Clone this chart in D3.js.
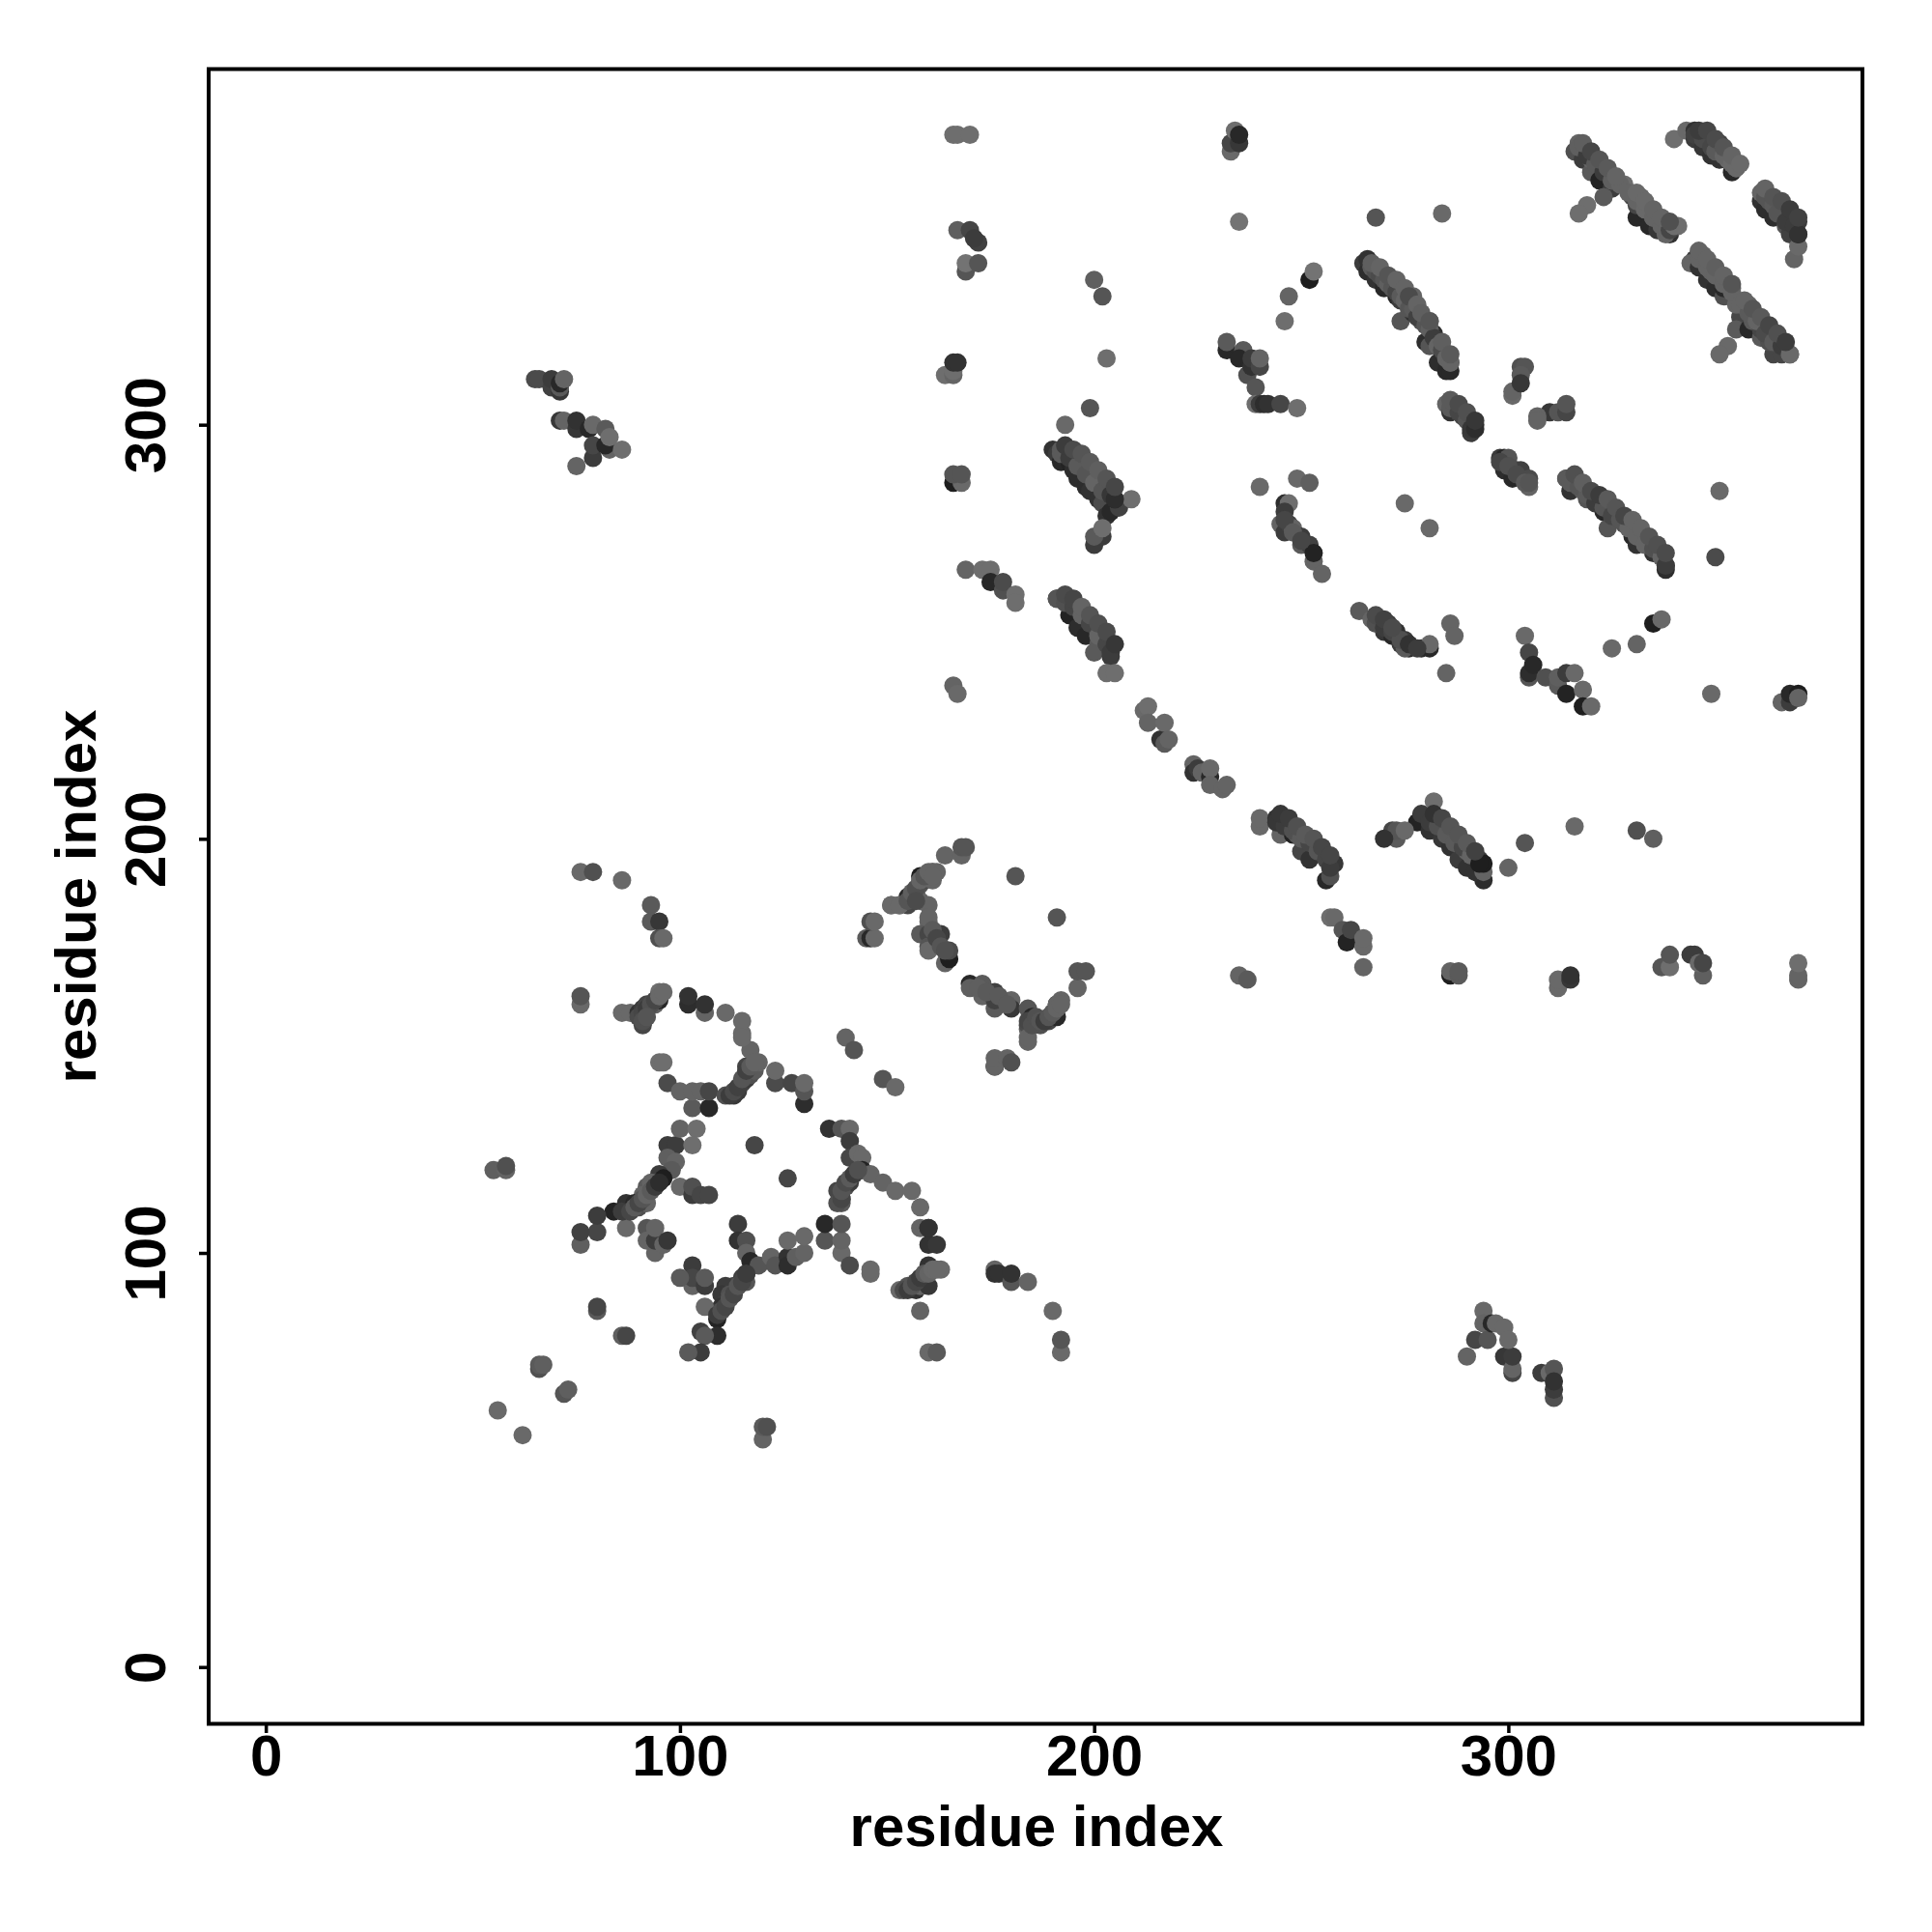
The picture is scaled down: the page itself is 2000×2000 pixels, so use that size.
<!DOCTYPE html>
<html><head><meta charset="utf-8">
<script src="https://cdnjs.cloudflare.com/ajax/libs/d3/7.8.5/d3.min.js"></script>
<style>html,body{margin:0;padding:0;background:#fff}svg{display:block}</style>
</head><body><div id="c"></div>
<script>
// every contact: [residue x, residue y, grey level]
const topRow=[[166,370,110],[167,370,110],[170,370,110],[233,366,105],[233,368,70],[235,368,55],[234,371,110],[235,370,40],[235,349,115],[268,350,85],[252,335,30],[253,337,115],[247,331,100],[246,325,110],[200,335,95],[202,331,85],[203,316,110],[199,304,85],[193,300,105],[240,285,105],[249,287,105],[252,286,95],[284,351,105],[275,281,105],[281,275,105],[351,284,105],[350,268,75]];
const nearTop=[[167,347,95],[170,347,70],[172,344,65],[171,345,60],[169,337,85],[169,339,115],[172,339,85],[164,312,110],[166,312,100],[166,313,110],[166,315,50],[167,315,50]];
const cluster232=[[232,318,40],[232,320,90],[236,318,90],[235,316,40],[237,312,80],[238,314,50],[238,316,60],[240,314,70],[240,316,100],[239,309,85],[239,305,110],[240,305,60],[241,305,45],[242,305,50],[245,305,70],[249,304,110]];
const strandA=[[190,294,50],[191,293,60],[192,294,90],[192,291,40],[193,292,45],[194,291,35],[194,294,35],[195,293,50],[195,289,45],[196,291,90],[196,287,45],[198,285,45],[199,289,60],[199,284,50],[200,287,110],[201,282,50],[202,285,80],[202,281,75],[203,284,75],[203,278,50],[204,279,40],[206,280,65],[205,282,40],[209,282,110],[200,271,60],[202,273,60],[200,273,90],[202,275,110],[166,286,30],[168,286,105],[166,288,85],[168,288,85]];
const strandB=[[246,281,45],[247,281,110],[246,279,60],[245,276,100],[246,274,60],[247,276,65],[248,275,100],[250,273,60],[250,271,90],[252,271,65],[253,267,100],[253,269,35],[255,264,100],[169,265,100],[173,265,110],[175,265,110],[175,262,40],[178,260,80],[178,262,75],[181,259,110],[181,257,110]];
const strandC=[[265,339,60],[266,337,45],[266,340,50],[267,338,90],[268,335,50],[269,337,80],[270,333,40],[270,336,60],[271,334,45],[272,335,90],[273,331,40],[272,333,75],[274,330,60],[274,333,100],[275,331,90],[276,329,55],[274,325,85],[277,327,50],[277,331,100],[279,325,80],[281,325,95],[280,320,45],[282,322,45],[281,319,85],[283,319,100],[283,315,45],[285,313,40],[286,313,40],[285,317,70],[286,315,100]];
const strandD=[[316,366,80],[317,368,100],[319,366,65],[318,364,60],[320,361,90],[320,364,100],[322,359,35],[323,362,70],[325,357,60],[325,359,100],[328,358,110],[323,355,90],[319,353,110],[317,351,110],[331,350,40],[331,353,70],[330,355,70],[334,348,40],[332,355,105],[333,352,105],[336,347,55],[335,350,100],[339,346,50],[338,346,100],[339,348,70],[341,348,110]];
const strandE=[[340,369,110],[343,371,105],[345,369,60],[345,371,50],[347,367,55],[348,370,70],[349,365,50],[351,368,65],[351,364,50],[352,366,90],[354,361,40],[353,364,105],[355,362,105]];
const strandF=[[361,354,50],[361,356,100],[362,352,45],[363,354,85],[364,350,45],[365,353,90],[367,348,85],[368,351,55],[368,346,65],[370,349,60],[369,340,100],[370,343,105],[370,346,50]];
const strandG=[[345,340,60],[344,339,100],[347,341,100],[346,338,50],[348,335,50],[349,337,100],[350,333,45],[351,336,100],[352,331,80],[352,333,40],[354,333,100],[356,326,70],[355,329,100],[358,329,100],[355,323,90],[353,319,105],[351,317,105],[358,323,40],[359,325,90],[361,321,90],[361,323,70],[364,317,70],[363,320,80],[366,320,55],[366,317,70],[368,317,105]];
const clusterH=[[303,314,80],[304,314,85],[303,312,90],[301,307,105],[301,308,100],[303,310,55],[310,303,55],[307,302,100],[307,301,100],[312,303,85],[314,303,70],[314,305,85]];
const strandI=[[285,305,100],[286,303,50],[287,305,85],[288,304,70],[289,302,70],[291,298,60],[291,300,80],[292,300,40],[298,292,60],[299,289,45],[299,292,40],[300,292,85],[301,287,40],[302,289,80],[303,289,65],[305,285,100],[305,287,75]];
const strandJ=[[314,287,55],[315,284,50],[314,287,90],[316,286,70],[318,284,95],[319,282,85],[321,282,35],[323,279,40],[324,281,90],[324,275,85],[326,278,50],[328,276,80],[330,273,40],[330,275,100],[331,271,50],[332,273,100],[334,271,70],[335,269,50],[337,268,100],[338,265,45],[338,266,50]];
const strandK=[[264,255,90],[267,253,100],[269,253,35],[271,252,60],[270,250,55],[272,249,40],[273,250,50],[274,247,60],[274,248,65],[276,246,45],[275,248,60],[275,246,90],[279,246,45],[281,246,40],[281,247,105],[286,252,100],[287,249,100],[285,240,100]];
const block304=[[304,249,105],[305,239,85],[305,240,45],[305,245,70],[306,242,40],[309,239,80],[312,237,90],[312,239,95],[314,235,35],[314,240,60],[316,240,105],[318,236,105],[318,232,30],[320,232,105],[325,246,105],[331,247,100],[335,252,30],[337,253,105],[349,235,105],[366,233,100],[368,233,60],[368,235,40],[370,235,30],[370,234,100]];
const strandL=[[278,204,35],[279,206,60],[282,205,35],[281,202,50],[282,209,110],[284,203,80],[284,200,55],[286,201,95],[286,198,50],[288,195,60],[288,199,70],[290,193,50],[290,197,100],[294,190,45],[292,192,50],[293,195,60],[294,192,100],[294,194,30],[273,200,90],[272,202,70],[273,202,85],[275,202,105],[304,199,85],[300,193,100],[316,203,105],[331,202,80],[335,200,95]];
const row167=[[286,167,30],[286,168,100],[288,167,90],[288,168,90],[312,164,105],[312,166,105],[315,166,55],[315,167,50],[337,169,85],[339,169,110],[339,172,85],[344,172,60],[345,172,60],[347,167,95],[346,170,105],[347,170,70],[370,166,100],[370,167,100],[370,170,110],[235,167,100],[237,166,90]];
const strandM=[[191,258,60],[191,258,85],[194,254,35],[194,258,75],[195,257,70],[196,251,45],[197,255,105],[199,252,70],[198,249,40],[201,250,100],[201,247,90],[200,245,90],[204,246,60],[204,244,60],[203,240,110],[205,240,110],[166,237,100],[167,235,105]];
const midChain=[[212,231,105],[213,232,110],[213,228,100],[216,224,50],[217,223,90],[217,228,105],[218,224,100],[224,218,100],[224,216,50],[225,217,60],[226,216,100],[228,215,40],[228,217,105],[228,213,100],[231,212,100],[232,213,100]];
const strandN=[[240,203,105],[240,205,105],[245,201,100],[244,205,50],[246,204,55],[248,201,35],[249,201,90],[250,197,70],[251,200,60],[252,195,50],[254,198,85],[256,190,40],[257,191,80],[256,196,70],[258,194,55],[257,181,110],[258,181,105],[260,178,85],[261,175,35],[262,178,70],[265,174,105],[265,176,105],[265,169,100],[270,200,50]];
const arcUpper=[[155,184,70],[156,186,85],[151,184,105],[153,184,105],[155,186,40],[157,187,60],[158,191,30],[158,189,90],[159,190,75],[159,191,80],[160,191,50],[161,192,105],[162,192,100],[164,196,100],[168,196,100],[168,198,85],[169,198,85],[158,185,100],[160,184,100],[161,190,100],[161,192,100],[160,180,100],[158,177,90],[160,177,70],[163,177,60],[160,174,85],[161,174,85],[160,173,105],[164,170,100],[165,171,30],[165,173,75]];
const arcLower=[[170,165,40],[170,164,95],[173,162,100],[173,165,90],[176,163,65],[176,159,90],[176,161,65],[180,161,100],[180,159,55],[184,154,100],[184,155,75],[184,159,85],[185,157,40],[187,155,80],[189,156,70],[191,160,30],[191,157,40],[190,158,85],[192,161,100],[191,160,100],[196,164,100],[196,168,85],[198,168,85],[184,151,100],[184,152,100],[176,145,30],[176,145,100],[176,147,100],[179,147,100],[180,146,80],[176,96,100],[176,95,50],[177,95,50],[180,93,85],[180,95,50],[184,93,100],[190,86,105],[192,76,105],[192,79,85],[160,76,105],[162,76,90],[181,191,85],[191,181,85]];
const leftTop=[[65,311,75],[66,311,75],[69,309,65],[69,311,60],[71,308,55],[71,309,90],[71,310,40],[72,311,100],[71,301,55],[72,301,100],[75,299,55],[75,301,50],[78,299,40],[79,300,105],[79,292,60],[79,295,70],[75,290,100],[82,299,90],[83,294,100],[82,295,40],[83,297,110],[86,294,110]];
const leftUpper=[[76,192,105],[79,192,80],[86,190,105],[93,184,90],[93,180,90],[95,180,55],[95,176,80],[96,176,105],[76,160,105],[76,162,85],[86,158,105],[88,158,105],[91,155,70],[90,158,50],[91,159,60],[92,160,70],[94,160,100],[95,161,40],[95,163,110],[102,160,45],[102,162,50],[106,158,100],[106,160,50],[111,158,105],[115,153,105],[115,156,105],[145,176,90],[146,176,40],[147,176,105],[146,180,80],[147,180,105],[151,184,105],[153,184,105]];
const loopNorth=[[95,146,110],[96,146,110],[97,141,75],[100,139,100],[103,135,90],[107,135,40],[103,139,100],[105,139,100],[107,139,70],[111,138,80],[113,138,55],[114,139,60],[115,141,70],[116,145,70],[116,142,60],[117,143,80],[118,144,90],[119,146,100],[117,149,100],[115,152,105],[123,141,75],[123,144,105],[127,141,70],[130,136,45],[130,139,85],[130,141,105],[140,152,100],[142,149,85],[149,142,85],[152,140,105]];
const loopWest=[[55,120,95],[58,120,100],[58,121,80],[118,126,70],[126,118,70],[97,126,60],[99,126,60],[97,123,95],[99,122,100],[98,120,90],[100,130,100],[104,130,110],[103,126,110],[95,119,60],[94,117,70],[96,118,30],[92,116,90],[93,117,100],[91,114,100],[87,112,50],[89,112,40],[90,111,80],[92,112,100],[87,110,40],[87,106,105],[84,110,35],[80,105,70],[80,109,60],[76,102,95],[76,105,65],[100,116,105],[103,114,60],[103,116,80],[105,114,70],[107,114,70]];
const loopSouthWest=[[92,106,85],[94,100,100],[92,103,100],[94,103,60],[94,106,100],[96,102,100],[97,103,55],[80,86,90],[80,87,70],[86,80,95],[87,80,70],[66,72,80],[66,73,90],[67,73,95],[72,66,85],[73,67,95],[56,62,105],[62,56,105],[120,55,100],[120,58,90],[121,58,80]];
const loopSouth=[[114,107,60],[114,103,50],[116,103,80],[116,100,100],[117,98,40],[116,95,35],[119,97,85],[122,99,100],[123,97,85],[126,99,50],[126,97,45],[128,99,95],[126,103,105],[130,100,100],[130,104,105],[115,94,65],[116,93,85],[113,92,70],[114,92,90],[111,92,60],[110,90,55],[112,90,80],[111,88,60],[110,87,50],[109,84,35],[106,87,105],[109,80,45],[105,81,65],[106,80,90],[105,76,60],[102,76,90],[103,97,60],[103,92,100],[103,94,70],[100,94,90],[106,92,60],[106,94,90]];
const loopEast=[[136,130,50],[139,130,85],[141,130,105],[141,127,60],[141,123,70],[143,124,105],[144,123,105],[144,120,35],[146,119,100],[139,113,55],[139,112,90],[138,115,70],[140,116,80],[141,117,60],[149,117,100],[152,115,105],[156,115,105],[158,111,105],[158,106,100],[160,106,60],[160,102,50],[162,102,55],[160,106,50],[135,103,85],[135,107,40],[139,100,105],[139,103,100],[139,107,85],[141,97,75],[146,95,105],[146,96,105],[158,86,100],[153,91,105],[155,92,85],[157,91,50],[158,92,100],[159,95,40],[160,92,55],[160,96,60],[160,97,50],[163,96,105]];
const rightBottom=[[290,75,100],[292,79,70],[294,86,105],[294,83,100],[295,79,85],[296,83,40],[297,83,105],[299,82,105],[299,75,55],[301,71,70],[301,72,100],[301,75,60],[300,79,105],[308,71,60],[310,71,105],[311,72,85],[311,65,80],[311,67,60],[311,69,50]];
// mid-toned contacts lying on top of the thick bands
const topC=[[267,338,90],[268,337,80],[269,336,75],[270,335,85],[271,334,95],[272,333,85],[273,332,70],[274,331,90],[275,330,100],[276,328,85],[277,328,90],[278,326,65],[280,324,85],[281,323,95],[282,321,60],[283,319,100],[284,318,75],[285,316,100],[286,315,100]];
const topD=[[317,367,95],[319,365,60],[321,363,90],[323,361,60],[325,359,95],[327,358,100],[329,356,100],[331,354,100],[333,352,105],[335,350,100],[337,348,100],[339,347,70],[340,348,110]];
const topEFG=[[345,370,65],[347,369,75],[349,367,70],[350,366,90],[352,365,100],[354,363,105],[355,362,105],[362,355,85],[364,353,90],[365,351,85],[367,349,60],[369,348,60],[370,346,50],[346,340,100],[348,338,100],[350,336,100],[352,334,100],[354,332,100],[356,329,100],[358,327,90],[360,325,100],[362,322,75],[364,320,90],[366,319,60],[368,317,105]];
const topHIJ=[[286,304,90],[288,303,70],[290,301,85],[291,299,55],[292,299,45],[298,291,70],[300,290,80],[302,288,75],[304,286,90],[305,286,85],[315,286,90],[317,285,85],[319,283,90],[321,281,60],[323,280,85],[325,278,70],[327,277,85],[329,275,100],[331,273,100],[333,271,100],[335,270,80],[337,268,100],[338,266,60]];
const topAM=[[192,293,90],[194,292,60],[196,290,90],[198,288,85],[200,286,100],[202,284,85],[204,283,55],[205,282,45],[193,257,80],[195,256,70],[197,254,100],[199,252,70],[201,249,100],[203,247,70],[204,245,60],[246,277,70],[248,274,90],[250,272,70]];
const topKNL=[[268,252,80],[270,251,60],[272,250,70],[274,248,80],[276,247,50],[278,246,60],[244,204,55],[246,203,60],[248,202,80],[250,200,90],[252,199,70],[254,197,85],[256,195,70],[257,193,60],[281,204,60],[283,203,80],[285,201,90],[287,199,90],[289,198,70],[291,196,100],[293,194,30]];
const topArcs=[[155,185,85],[156,187,95],[157,188,80],[158,190,100],[159,191,85],[160,192,100],[161,191,100],[157,185,75],[160,181,100],[161,178,90],[162,176,70],[163,174,85],[164,173,80],[172,164,95],[174,163,90],[177,162,90],[179,160,90],[184,156,70],[185,155,80],[186,157,80],[187,156,85],[188,156,60],[189,157,85],[190,158,90],[191,159,100],[192,160,100]];
const topLoops=[[86,110,60],[88,110,70],[89,111,90],[90,112,70],[91,113,85],[92,114,100],[93,115,90],[94,116,60],[95,117,45],[109,85,60],[110,86,80],[111,87,70],[112,89,85],[113,90,70],[114,92,85],[115,93,70],[116,95,60],[138,112,80],[139,113,70],[139,115,85],[140,117,75],[141,118,90],[142,119,60],[143,120,80],[112,138,60],[113,139,75],[114,140,65],[115,142,85],[116,144,65],[117,145,90],[118,146,100],[90,157,75],[91,158,70],[92,159,60],[93,160,80],[94,161,70],[91,156,80],[92,157,85],[95,162,105],[96,163,105],[154,91,75],[155,91,60],[156,92,85],[157,93,70],[158,94,60],[159,95,90],[160,95,100],[161,96,105],[162,96,105]];
// contacts along the upper-right edge of the thick bands
const edgeCDE=[[267,339,95],[269,338,100],[271,336,85],[273,335,100],[275,333,100],[276,331,75],[278,329,100],[279,327,95],[281,325,85],[284,320,95],[286,317,90],[318,368,95],[320,366,70],[322,364,85],[324,362,90],[326,360,100],[331,356,105],[333,354,105],[335,352,100],[337,350,100],[339,349,80],[346,371,60],[348,371,70],[350,369,75],[352,367,85],[354,365,100],[356,363,105]];
const edgeFGJ=[[362,357,100],[364,355,85],[366,354,80],[368,352,60],[370,350,65],[346,342,100],[348,340,100],[350,338,95],[352,336,100],[354,334,85],[357,330,100],[359,328,85],[361,326,90],[363,324,70],[365,322,80],[367,320,60],[316,288,80],[318,286,95],[320,284,75],[322,283,60],[324,282,90],[326,280,85],[328,278,70],[330,277,100],[332,275,100],[334,273,85],[336,271,80],[338,269,75]];
const edgeOthers=[[193,295,60],[195,294,75],[197,293,85],[199,291,90],[201,289,95],[203,287,85],[205,285,70],[193,259,75],[195,258,70],[197,256,100],[199,254,85],[201,252,80],[203,250,75],[205,247,55],[245,206,55],[247,205,60],[249,203,80],[251,201,90],[253,200,85],[255,198,70],[257,196,70],[282,206,50],[284,205,70],[286,203,85],[288,201,85],[290,199,90],[292,197,65],[268,254,75],[270,253,65],[272,251,75],[286,306,90],[288,305,75],[290,303,80],[292,301,55]];
const regions=[topRow,nearTop,cluster232,strandA,strandB,strandC,strandD,strandE,strandF,strandG,clusterH,strandI,strandJ,strandK,block304,strandL,row167,strandM,midChain,strandN,arcUpper,arcLower,leftTop,leftUpper,loopNorth,loopWest,loopSouthWest,loopSouth,loopEast,rightBottom,topC,topD,topEFG,topHIJ,topAM,topKNL,topArcs,topLoops,edgeCDE,edgeFGJ,edgeOthers];
const xTicks=[0,100,200,300], yTicks=[0,100,200,300];
const axisTitle="residue index";

const F="'Liberation Sans',Arial,sans-serif";
const svg=d3.select("#c").append("svg").attr("width",2000).attr("height",2000).style("background","#fff");
const x=d3.scaleLinear().domain([-13.8,385.5]).range([216,1928]);
const y=d3.scaleLinear().domain([-13.6,386]).range([1784,71]);
svg.append("g").selectAll("circle").data(regions.flat()).join("circle")
  .attr("cx",d=>x(d[0])).attr("cy",d=>y(d[1])).attr("r",9.5)
  .attr("fill",d=>d3.rgb(d[2],d[2],d[2]));
svg.append("rect").attr("x",216).attr("y",71.5).attr("width",1712).attr("height",1713)
  .attr("fill","none").attr("stroke","#000").attr("stroke-width",4);
const gx=svg.append("g").attr("transform","translate(0,1784)")
  .call(d3.axisBottom(x).tickValues(xTicks).tickSize(10).tickSizeOuter(0).tickPadding(1).tickFormat(d3.format("d")));
gx.select(".domain").remove();
gx.selectAll("line").attr("stroke","#000").attr("stroke-width",3.5);
gx.selectAll("text").attr("font-family",F).attr("font-weight",700).attr("font-size",60).attr("fill","#000");
const gy=svg.append("g").attr("transform","translate(216,0)")
  .call(d3.axisLeft(y).tickValues(yTicks).tickSize(10).tickSizeOuter(0).tickFormat(d3.format("d")));
gy.select(".domain").remove();
gy.selectAll("line").attr("stroke","#000").attr("stroke-width",3.5);
gy.selectAll("text").attr("font-family",F).attr("font-weight",700).attr("font-size",60).attr("fill","#000")
  .attr("x",null).attr("dy",null).attr("text-anchor","middle")
  .attr("transform",function(d){return `translate(-45,${0}) rotate(-90)`;});
svg.append("text").attr("x",1073).attr("y",1911).attr("text-anchor","middle")
  .attr("font-family",F).attr("font-weight",700).attr("font-size",60).text(axisTitle);
svg.append("text").attr("transform","translate(99,928) rotate(-90)").attr("text-anchor","middle")
  .attr("font-family",F).attr("font-weight",700).attr("font-size",60).text(axisTitle);
</script></body></html>
